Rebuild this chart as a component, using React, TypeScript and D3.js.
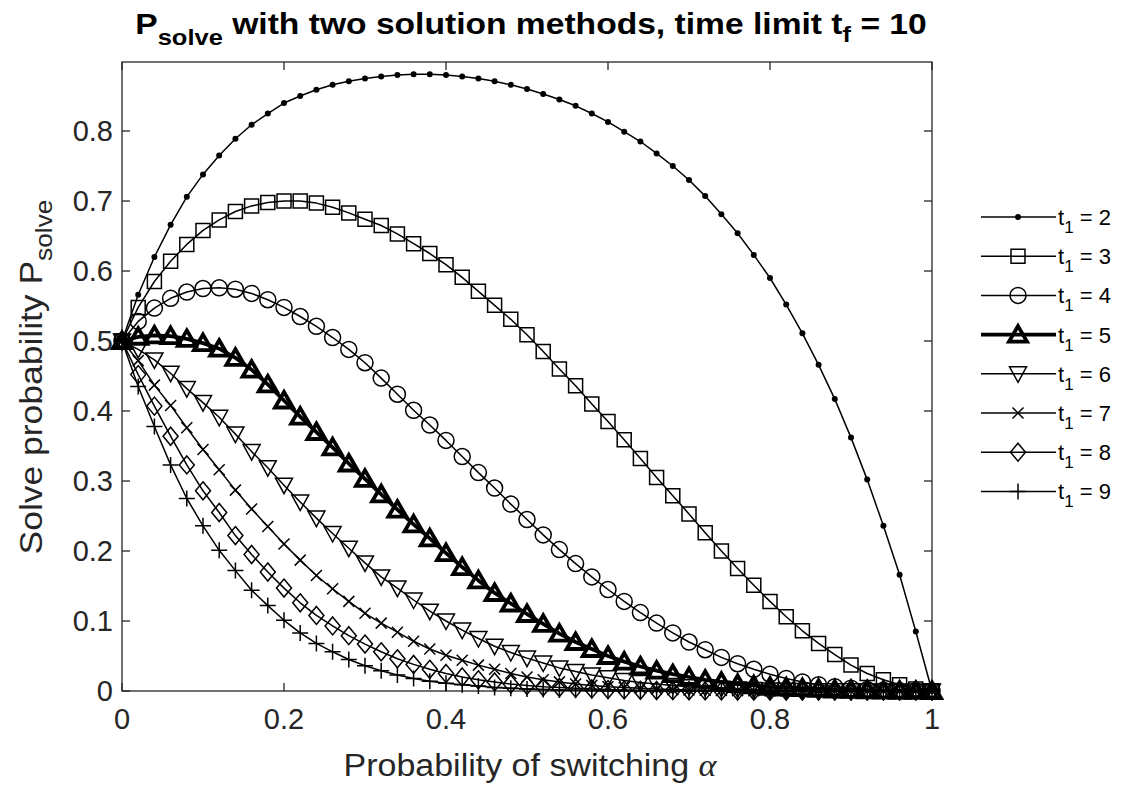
import { useEffect, useRef } from "react";
import * as d3 from "d3";

const VB_W = 1129;
const VB_H = 788;
const PLOT = { left: 122, top: 62, right: 932, bottom: 691 };
const FONT = '"Liberation Sans", Arial, Helvetica, sans-serif';
const AXIS_COLOR = "#262626";

// switching probability, one entry per marker
const ALPHA = [
  0, 0.02, 0.04, 0.06, 0.08, 0.1, 0.12, 0.14, 0.16, 0.18, 0.2, 0.22, 0.24,
  0.26, 0.28, 0.3, 0.32, 0.34, 0.36, 0.38, 0.4, 0.42, 0.44, 0.46, 0.48, 0.5,
  0.52, 0.54, 0.56, 0.58, 0.6, 0.62, 0.64, 0.66, 0.68, 0.7, 0.72, 0.74, 0.76,
  0.78, 0.8, 0.82, 0.84, 0.86, 0.88, 0.9, 0.92, 0.94, 0.96, 0.98, 1,
];

const P_T2 = [
  0.5, 0.566, 0.62, 0.666, 0.706, 0.738, 0.765, 0.789, 0.809, 0.825,
  0.84, 0.85, 0.859, 0.866, 0.871, 0.875, 0.878, 0.88, 0.881, 0.881,
  0.88, 0.878, 0.875, 0.871, 0.866, 0.86, 0.853, 0.845, 0.836, 0.825,
  0.813, 0.799, 0.785, 0.768, 0.75, 0.73, 0.707, 0.681, 0.654, 0.623,
  0.59, 0.552, 0.511, 0.466, 0.417, 0.362, 0.302, 0.236, 0.166, 0.085, 0,
];
const P_T3 = [
  0.5, 0.548, 0.585, 0.614, 0.638, 0.658, 0.673, 0.685, 0.693, 0.698,
  0.7, 0.7, 0.697, 0.691, 0.683, 0.674, 0.665, 0.653, 0.639, 0.625,
  0.609, 0.591, 0.571, 0.551, 0.531, 0.509, 0.485, 0.46, 0.436, 0.41,
  0.385, 0.359, 0.332, 0.305, 0.279, 0.253, 0.226, 0.2, 0.175, 0.151,
  0.128, 0.106, 0.086, 0.068, 0.052, 0.037, 0.025, 0.016, 0.009, 0.003, 0,
];
const P_T4 = [
  0.5, 0.528, 0.547, 0.561, 0.57, 0.575, 0.576, 0.574, 0.568, 0.559,
  0.548, 0.535, 0.521, 0.505, 0.488, 0.469, 0.447, 0.424, 0.401, 0.38,
  0.358, 0.335, 0.312, 0.29, 0.267, 0.245, 0.223, 0.202, 0.182, 0.163,
  0.145, 0.128, 0.112, 0.097, 0.083, 0.07, 0.059, 0.048, 0.039, 0.031,
  0.024, 0.018, 0.013, 0.009, 0.006, 0.004, 0.002, 0.001, 0.0005, 0.0002, 0,
];
const P_T5 = [
  0.5, 0.506, 0.508, 0.507, 0.503, 0.497, 0.489, 0.476, 0.459, 0.438,
  0.415, 0.392, 0.37, 0.348, 0.325, 0.303, 0.281, 0.259, 0.238, 0.218,
  0.197, 0.177, 0.158, 0.14, 0.125, 0.11, 0.096, 0.082, 0.07, 0.06,
  0.05, 0.042, 0.035, 0.029, 0.024, 0.02, 0.016, 0.013, 0.01, 0.008,
  0.006, 0.005, 0.004, 0.003, 0.002, 0.0015, 0.001, 0.0006, 0.0003, 0.0001, 0,
];
const P_T6 = [
  0.5, 0.488, 0.473, 0.454, 0.432, 0.412, 0.391, 0.367, 0.342, 0.319,
  0.294, 0.27, 0.247, 0.225, 0.204, 0.183, 0.163, 0.147, 0.13, 0.114,
  0.1, 0.087, 0.075, 0.064, 0.055, 0.047, 0.04, 0.033, 0.028, 0.023,
  0.019, 0.015, 0.012, 0.01, 0.008, 0.006, 0.005, 0.004, 0.003, 0.002,
  0.0015, 0.001, 0.0007, 0.0005, 0.0003, 0.0002, 0.0001, 0, 0, 0, 0,
];
const P_T7 = [
  0.5, 0.472, 0.437, 0.408, 0.376, 0.345, 0.316, 0.287, 0.26, 0.235,
  0.21, 0.187, 0.165, 0.146, 0.128, 0.111, 0.097, 0.084, 0.071, 0.06,
  0.051, 0.044, 0.037, 0.031, 0.025, 0.02, 0.016, 0.013, 0.01, 0.008,
  0.006, 0.005, 0.004, 0.003, 0.002, 0.0015, 0.001, 0.0007, 0.0005, 0.0003,
  0.0002, 0.0001, 0, 0, 0, 0, 0, 0, 0, 0, 0,
];
const P_T8 = [
  0.5, 0.452, 0.407, 0.364, 0.323, 0.286, 0.255, 0.222, 0.195, 0.17,
  0.147, 0.126, 0.108, 0.093, 0.079, 0.067, 0.056, 0.046, 0.038, 0.031,
  0.025, 0.02, 0.016, 0.013, 0.01, 0.008, 0.006, 0.005, 0.004, 0.003,
  0.002, 0.0015, 0.001, 0.0007, 0.0005, 0.0003, 0.0002, 0.0001, 0, 0,
  0, 0, 0, 0, 0, 0, 0, 0, 0, 0, 0,
];
const P_T9 = [
  0.5, 0.435, 0.378, 0.323, 0.275, 0.236, 0.201, 0.172, 0.144, 0.122,
  0.101, 0.083, 0.068, 0.056, 0.045, 0.036, 0.029, 0.023, 0.018, 0.014,
  0.011, 0.009, 0.007, 0.005, 0.004, 0.003, 0.002, 0.0015, 0.001, 0.0008,
  0.0005, 0.0004, 0.0003, 0.0002, 0.0001, 0, 0, 0, 0, 0,
  0, 0, 0, 0, 0, 0, 0, 0, 0, 0, 0,
];

const T1_LABELS = ["2", "3", "4", "5", "6", "7", "8", "9"];
const MARKERS = ["dot", "square", "circle", "triUp", "triDown", "cross", "diamond", "plus"];
const SERIES_VALUES = [P_T2, P_T3, P_T4, P_T5, P_T6, P_T7, P_T8, P_T9];

const X_TICKS = [0, 0.2, 0.4, 0.6, 0.8, 1];
const X_TICK_LABELS = ["0", "0.2", "0.4", "0.6", "0.8", "1"];
const Y_TICKS = [0, 0.1, 0.2, 0.3, 0.4, 0.5, 0.6, 0.7, 0.8];
const Y_TICK_LABELS = ["0", "0.1", "0.2", "0.3", "0.4", "0.5", "0.6", "0.7", "0.8"];

function markerPath(kind: string) {
  switch (kind) {
    case "square":
      return "M-7,-7H7V7H-7Z";
    case "circle":
      return "M8,0A8,8 0 1,1 -8,0A8,8 0 1,1 8,0Z";
    case "triUp":
      return "M0,-8.5L9,7L-9,7Z";
    case "triDown":
      return "M0,8.5L8.5,-7L-8.5,-7Z";
    case "cross":
      return "M-5.5,-5.5L5.5,5.5M-5.5,5.5L5.5,-5.5";
    case "diamond":
      return "M0,-9L7.5,0L0,9L-7.5,0Z";
    case "plus":
      return "M-8,0H8M0,-8V8";
    default:
      return "M3,0A3,3 0 1,1 -3,0A3,3 0 1,1 3,0Z";
  }
}

// squeeze a text element horizontally (around cx) to a measured width
function fitWidth(node: any, cx: number, target: number) {
  const w = node.node().getBBox().width;
  if (!w) return;
  const k = target / w;
  node.attr("transform", `translate(${cx},0) scale(${k},1) translate(${-cx},0)`);
}

export default function App() {
  const svgRef = useRef<SVGSVGElement | null>(null);

  useEffect(() => {
    const svg = d3.select(svgRef.current);
    svg.selectAll("*").remove();

    const x = d3.scaleLinear().domain([0, 1]).range([PLOT.left, PLOT.right]);
    const y = d3.scaleLinear().domain([0, 0.8986]).range([PLOT.bottom, PLOT.top]);

    svg.append("rect").attr("width", VB_W).attr("height", VB_H).attr("fill", "#fff");

    // axes box + inward ticks on all four sides
    const axes = svg.append("g").attr("stroke", AXIS_COLOR).attr("stroke-width", 1.3).attr("fill", "none");
    axes
      .append("rect")
      .attr("x", PLOT.left)
      .attr("y", PLOT.top)
      .attr("width", PLOT.right - PLOT.left)
      .attr("height", PLOT.bottom - PLOT.top);
    const TICK = 8;
    X_TICKS.forEach((t) => {
      axes.append("line").attr("x1", x(t)).attr("x2", x(t)).attr("y1", PLOT.bottom).attr("y2", PLOT.bottom - TICK);
      axes.append("line").attr("x1", x(t)).attr("x2", x(t)).attr("y1", PLOT.top).attr("y2", PLOT.top + TICK);
    });
    Y_TICKS.forEach((t) => {
      axes.append("line").attr("x1", PLOT.left).attr("x2", PLOT.left + TICK).attr("y1", y(t)).attr("y2", y(t));
      axes.append("line").attr("x1", PLOT.right).attr("x2", PLOT.right - TICK).attr("y1", y(t)).attr("y2", y(t));
    });

    svg
      .append("g")
      .selectAll("text")
      .data(X_TICKS)
      .join("text")
      .attr("x", (d) => x(d))
      .attr("y", PLOT.bottom + 38)
      .attr("text-anchor", "middle")
      .attr("font-family", FONT)
      .attr("font-size", 29)
      .attr("fill", AXIS_COLOR)
      .text((_, i) => X_TICK_LABELS[i]);

    svg
      .append("g")
      .selectAll("text")
      .data(Y_TICKS)
      .join("text")
      .attr("x", PLOT.left - 9)
      .attr("y", (d) => y(d) + 10)
      .attr("text-anchor", "end")
      .attr("font-family", FONT)
      .attr("font-size", 29)
      .attr("fill", AXIS_COLOR)
      .text((_, i) => Y_TICK_LABELS[i]);

    // series
    const line = d3
      .line<number>()
      .x((_, i) => x(ALPHA[i]))
      .y((v) => y(v));

    SERIES_VALUES.forEach((values, s) => {
      const kind = MARKERS[s];
      const thick = T1_LABELS[s] === "5";
      const sw = thick ? 3.8 : 1.5;
      const g = svg.append("g");
      g.append("path")
        .attr("d", line(values))
        .attr("fill", "none")
        .attr("stroke", "#000")
        .attr("stroke-width", sw)
        .attr("stroke-linejoin", "round");
      g.selectAll("path.mk")
        .data(values)
        .join("path")
        .attr("class", "mk")
        .attr("transform", (v, i) => `translate(${x(ALPHA[i])},${y(v)})`)
        .attr("d", markerPath(kind))
        .attr("fill", kind === "dot" ? "#000" : "none")
        .attr("stroke", "#000")
        .attr("stroke-width", kind === "dot" ? 0 : sw);
    });

    // legend
    const legend = svg.append("g");
    T1_LABELS.forEach((lab, s) => {
      const ly = 217 + s * 39.2;
      const thick = lab === "5";
      const sw = thick ? 3.8 : 1.5;
      legend
        .append("line")
        .attr("x1", 981)
        .attr("x2", 1056)
        .attr("y1", ly)
        .attr("y2", ly)
        .attr("stroke", "#000")
        .attr("stroke-width", sw);
      legend
        .append("path")
        .attr("transform", `translate(1018,${ly})`)
        .attr("d", markerPath(MARKERS[s]))
        .attr("fill", MARKERS[s] === "dot" ? "#000" : "none")
        .attr("stroke", "#000")
        .attr("stroke-width", MARKERS[s] === "dot" ? 0 : sw);
      const t = legend
        .append("text")
        .attr("x", 1058)
        .attr("y", ly + 8)
        .attr("font-family", FONT)
        .attr("font-size", 22)
        .attr("fill", "#000")
        .style("white-space", "pre");
      t.append("tspan").text("t");
      t.append("tspan").attr("dy", 8).attr("font-size", 17).text("1");
      t.append("tspan").attr("dy", -8).text(` = ${lab}`);
    });

    // title
    const title = svg
      .append("text")
      .attr("x", 531)
      .attr("y", 34)
      .attr("text-anchor", "middle")
      .attr("font-family", FONT)
      .attr("font-weight", 700)
      .attr("font-size", 29)
      .attr("fill", "#000")
      .style("white-space", "pre");
    title.append("tspan").text("P");
    title.append("tspan").attr("dy", 11).attr("font-size", 22).text("solve");
    title.append("tspan").attr("dy", -11).text(" with two solution methods, time limit t");
    title.append("tspan").attr("dy", 8).attr("font-size", 22).text("f");
    title.append("tspan").attr("dy", -8).text(" = 10");
    fitWidth(title, 531, 792);

    // x label
    const xl = svg
      .append("text")
      .attr("x", 530)
      .attr("y", 776)
      .attr("text-anchor", "middle")
      .attr("font-family", FONT)
      .attr("font-size", 31)
      .attr("fill", AXIS_COLOR)
      .style("white-space", "pre");
    xl.append("tspan").text("Probability of switching ");
    xl.append("tspan").attr("font-family", '"Liberation Serif", serif').attr("font-style", "italic").text("α");
    fitWidth(xl, 530, 374);

    // y label
    const yg = svg.append("g").attr("transform", `translate(42,377) rotate(-90)`);
    const yl = yg
      .append("text")
      .attr("x", 0)
      .attr("y", 0)
      .attr("text-anchor", "middle")
      .attr("font-family", FONT)
      .attr("font-size", 31)
      .attr("fill", AXIS_COLOR)
      .style("white-space", "pre");
    yl.append("tspan").text("Solve probability P");
    yl.append("tspan").attr("dy", 10).attr("font-size", 23).text("solve");
    fitWidth(yl, 0, 355);
  }, []);

  return (
    <svg
      ref={svgRef}
      width={VB_W}
      height={VB_H}
      viewBox={`0 0 ${VB_W} ${VB_H}`}
      style={{ position: "absolute", left: 0, top: 0, display: "block" }}
    />
  );
}
